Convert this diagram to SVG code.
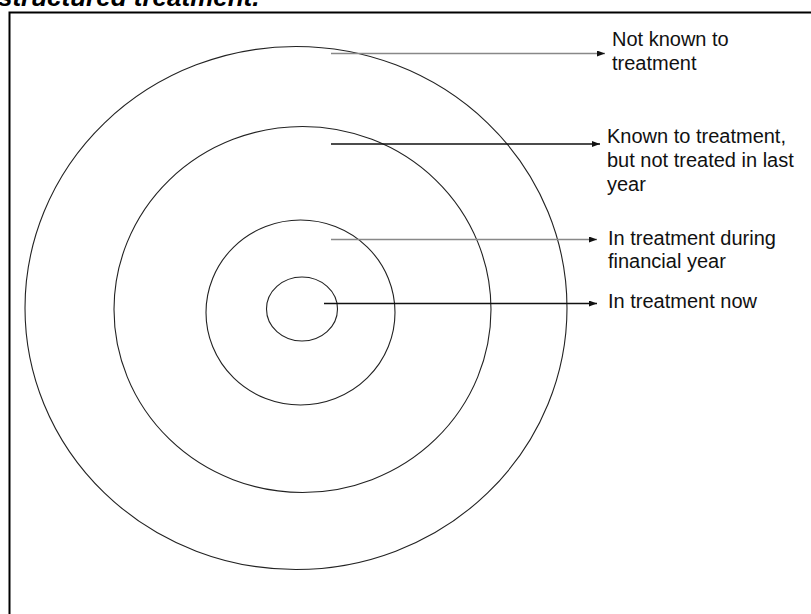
<svg xmlns="http://www.w3.org/2000/svg" width="811" height="614" viewBox="0 0 811 614">
<defs>
<style>
.ring{fill:none;stroke:#222;stroke-width:1.1}
.lbl{font-family:"Liberation Sans",Arial,sans-serif;font-size:20px;fill:#111}
.dark{stroke:#111;stroke-width:1.5}
.grey{stroke:#888;stroke-width:1.5}
</style>
<marker id="ah" viewBox="0 0 8 6" refX="8" refY="3" markerWidth="8" markerHeight="6" markerUnits="userSpaceOnUse" orient="auto">
<path d="M0,0 L8,3 L0,6 Z" fill="#111"/>
</marker>
</defs>
<rect width="811" height="614" fill="#fff"/>
<text x="-2" y="6" font-family="'Liberation Sans',Arial,sans-serif" font-size="26" font-weight="bold" font-style="italic" fill="#000">structured treatment.</text>
<rect x="9.5" y="12.5" width="900" height="700" fill="none" stroke="#000" stroke-width="2"/>
<g id="ring-not-known"><ellipse class="ring" cx="296" cy="308" rx="271" ry="261.5"/></g>
<g id="ring-known"><ellipse class="ring" cx="302.5" cy="309.5" rx="188.5" ry="183"/></g>
<g id="ring-financial-year"><ellipse class="ring" cx="300.5" cy="312.5" rx="94.5" ry="92.5"/></g>
<g id="ring-now"><ellipse class="ring" cx="302" cy="309" rx="35.5" ry="32"/></g>
<g id="connectors">
<line class="grey" x1="331" y1="53.5" x2="605" y2="53.5" marker-end="url(#ah)"/>
<line class="dark" x1="331" y1="144" x2="600" y2="144" marker-end="url(#ah)"/>
<line class="grey" x1="331" y1="239.5" x2="597" y2="239.5" marker-end="url(#ah)"/>
<line class="dark" x1="324" y1="303.5" x2="597" y2="303.5" marker-end="url(#ah)"/>
</g>
<g id="label-not-known"><text class="lbl" x="612" y="46">Not known to</text><text class="lbl" x="612" y="70">treatment</text></g>
<g id="label-known"><text class="lbl" x="607" y="143">Known to treatment,</text><text class="lbl" x="607" y="167">but not treated in last</text><text class="lbl" x="607" y="191">year</text></g>
<g id="label-financial-year"><text class="lbl" x="608" y="245">In treatment during</text><text class="lbl" x="608" y="268">financial year</text></g>
<g id="label-now"><text class="lbl" x="608" y="308">In treatment now</text></g>
</svg>
